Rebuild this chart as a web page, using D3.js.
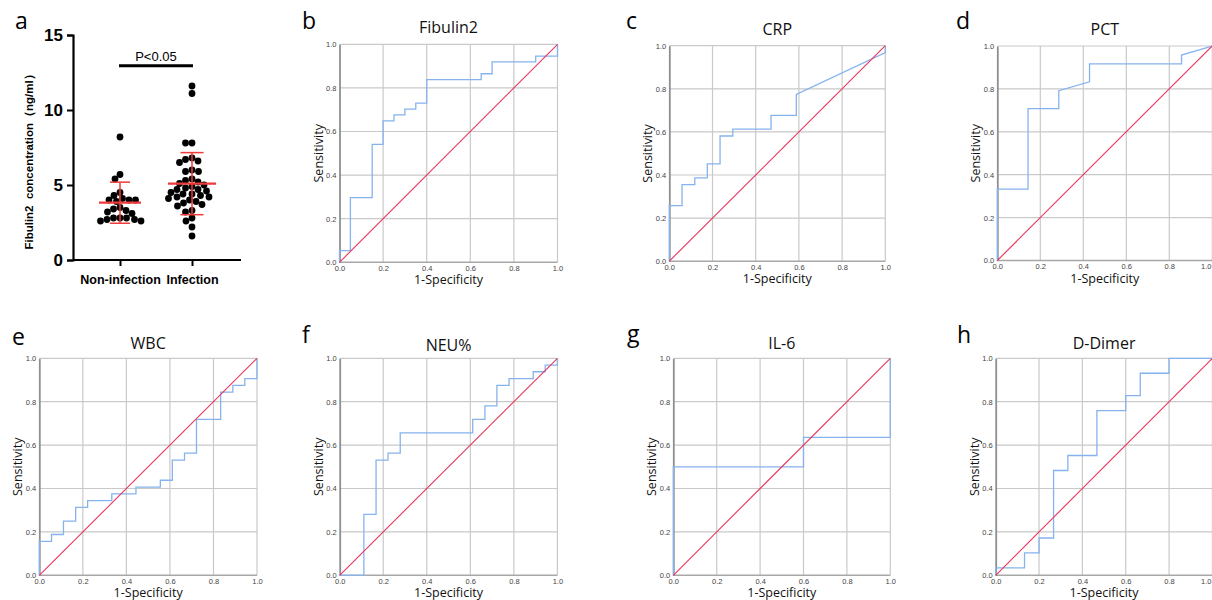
<!DOCTYPE html>
<html>
<head>
<meta charset="utf-8">
<script src="https://cdn.jsdelivr.net/npm/d3@7"></script>
<style>
  html, body { margin: 0; padding: 0; background: #fff; }
  svg { display: block; }
</style>
</head>
<body>
<svg id="chart" width="1212" height="600"></svg>
<script>
// ---------------- DATA ----------------
// Panel a: Fibulin2 concentration (ng/ml)
const groups = ["Non-infection", "Infection"];
const nonInfection = [8.2, 5.7, 5.4, 4.5, 4.3, 4.1, 4.0, 4.0, 4.0, 3.9, 3.5, 3.4, 3.3, 3.2, 3.1, 2.8, 2.8, 2.8, 2.7, 2.7, 2.6, 2.6];
const infection = [11.6, 11.1, 7.8, 7.8, 6.8, 6.7, 6.6, 6.5, 6.0, 5.9, 5.9, 5.4, 5.3, 5.2, 5.1, 5.0, 4.9, 4.8, 4.7, 4.7, 4.6, 4.5, 4.4, 4.4, 4.3, 4.2, 4.2, 4.1, 4.0, 3.9, 3.8, 3.7, 3.6, 3.3, 3.2, 2.8, 2.6, 2.2, 1.6];
const groupMeans = [3.82, 5.09];
const groupSDs = [1.37, 2.07];
const concTicks = [0, 5, 10, 15];
const pLabel = "P<0.05";

// ROC panels: 1-Specificity (fpr) and Sensitivity (tpr) vertices
const fibulinFpr = [0, 0, 0.05, 0.05, 0.15, 0.15, 0.2, 0.2, 0.25, 0.25, 0.3, 0.3, 0.35, 0.35, 0.4, 0.4, 0.65, 0.65, 0.7, 0.7, 0.9, 0.9, 1, 1];
const fibulinTpr = [0, 0.054, 0.054, 0.297, 0.297, 0.541, 0.541, 0.649, 0.649, 0.676, 0.676, 0.703, 0.703, 0.730, 0.730, 0.838, 0.838, 0.865, 0.865, 0.919, 0.919, 0.946, 0.946, 1];

const crpFpr = [0, 0, 0.059, 0.059, 0.118, 0.118, 0.176, 0.176, 0.235, 0.235, 0.294, 0.294, 0.471, 0.471, 0.588, 0.588, 1, 1];
const crpTpr = [0, 0.258, 0.258, 0.355, 0.355, 0.387, 0.387, 0.452, 0.452, 0.581, 0.581, 0.613, 0.613, 0.677, 0.677, 0.774, 0.968, 1];

const pctFpr = [0, 0, 0.143, 0.143, 0.286, 0.286, 0.429, 0.429, 0.857, 0.857, 1];
const pctTpr = [0, 0.333, 0.333, 0.708, 0.708, 0.792, 0.833, 0.917, 0.917, 0.958, 1];

const wbcFpr = [0, 0, 0.056, 0.056, 0.111, 0.111, 0.167, 0.167, 0.222, 0.222, 0.333, 0.333, 0.444, 0.444, 0.556, 0.556, 0.611, 0.611, 0.667, 0.667, 0.722, 0.722, 0.833, 0.833, 0.889, 0.889, 0.944, 0.944, 1, 1];
const wbcTpr = [0, 0.156, 0.156, 0.188, 0.188, 0.25, 0.25, 0.313, 0.313, 0.344, 0.344, 0.375, 0.375, 0.406, 0.406, 0.438, 0.438, 0.531, 0.531, 0.563, 0.563, 0.719, 0.719, 0.844, 0.844, 0.875, 0.875, 0.906, 0.906, 1];

const neuFpr = [0, 0.111, 0.111, 0.167, 0.167, 0.222, 0.222, 0.278, 0.278, 0.611, 0.611, 0.667, 0.667, 0.722, 0.722, 0.778, 0.778, 0.889, 0.889, 0.944, 0.944, 1, 1];
const neuTpr = [0, 0, 0.281, 0.281, 0.531, 0.531, 0.563, 0.563, 0.656, 0.656, 0.719, 0.719, 0.781, 0.781, 0.875, 0.875, 0.906, 0.906, 0.938, 0.938, 0.969, 0.969, 1];

const il6Fpr = [0, 0, 0.6, 0.6, 1, 1];
const il6Tpr = [0, 0.5, 0.5, 0.636, 0.636, 1];

const ddimerFpr = [0, 0, 0.133, 0.133, 0.2, 0.2, 0.267, 0.267, 0.333, 0.333, 0.467, 0.467, 0.6, 0.6, 0.667, 0.667, 0.8, 0.8, 1];
const ddimerTpr = [0, 0.034, 0.034, 0.103, 0.103, 0.172, 0.172, 0.483, 0.483, 0.552, 0.552, 0.759, 0.759, 0.828, 0.828, 0.931, 0.931, 1, 1];

const rocTitles = ["Fibulin2", "CRP", "PCT", "WBC", "NEU%", "IL-6", "D-Dimer"];
const panelLetters = ["a", "b", "c", "d", "e", "f", "g", "h"];
const rocTicks = [0, 0.2, 0.4, 0.6, 0.8, 1.0];

// ---------------- DRAW ----------------
const W = 1212;
const svg = d3.select("#chart");
svg.append("rect").attr("width", W).attr("height", 600).attr("fill", "#fff");

const BLUE = "#86b3ee";
const RED = "#e8365c";
const GRID = "#c9c9c9";
const TITLE_FONT = "'Open Sans', 'Noto Sans', sans-serif";
const ARIAL = "'Liberation Sans', Arial, sans-serif";

// ---- Panel a ----
(function panelA() {
  const left = 73, right = 241, top = 35, bottom = 260;
  const g = svg.append("g");
  const y = d3.scaleLinear().domain([0, 15]).range([bottom, top]);
  const x = d3.scalePoint().domain(groups).range([120, 192]);

  const yAxis = g.append("g").attr("transform", `translate(${left},0)`)
    .call(d3.axisLeft(y).tickValues(concTicks).tickSize(6).tickPadding(4));
  yAxis.select(".domain").attr("stroke", "#000").attr("stroke-width", 2.2);
  yAxis.selectAll(".tick line").attr("stroke", "#000").attr("stroke-width", 2);
  yAxis.selectAll(".tick text").attr("font-family", ARIAL)
    .attr("font-weight", "bold").attr("font-size", 17).attr("fill", "#000");

  const xAxis = g.append("g").attr("transform", `translate(0,${bottom})`)
    .call(d3.axisBottom(x).tickSize(6).tickPadding(9));
  xAxis.select(".domain").attr("d", `M${left},0H${right}`).attr("stroke", "#000").attr("stroke-width", 2.2);
  xAxis.selectAll(".tick line").attr("stroke", "#000").attr("stroke-width", 2);
  xAxis.selectAll(".tick text").attr("font-family", ARIAL)
    .attr("font-weight", "bold").attr("font-size", 12.5).attr("fill", "#000");

  // y title
  g.append("text")
    .attr("transform", `translate(33,159) rotate(-90)`)
    .attr("text-anchor", "middle")
    .attr("font-family", ARIAL)
    .attr("font-weight", "bold").attr("font-size", 11.5)
    .style("white-space", "pre")
    .text("Fibulin2  concentration\uFF08ng/ml\uFF09");

  // beeswarm dots
  const r = 3.4;
  function swarm(vals) {
    const order = vals.map((v, i) => i).sort((a, b) => vals[b] - vals[a]);
    const placed = [];
    const out = new Array(vals.length);
    order.forEach(i => {
      const py = y(vals[i]);
      let best = 0;
      for (let k = 0; k < 200; k++) {
        const dx = (k % 2 === 0 ? 1 : -1) * Math.ceil(k / 2) * 0.5;
        const ok = placed.every(p => Math.hypot(p.x - dx, p.y - py) >= 2 * r * 0.95);
        if (ok) { best = dx; break; }
      }
      placed.push({ x: best, y: py });
      out[i] = best;
    });
    return out;
  }
  [nonInfection, infection].forEach((vals, gi) => {
    const offs = swarm(vals);
    g.append("g").selectAll("circle").data(vals).join("circle")
      .attr("cx", (d, i) => x(groups[gi]) + offs[i])
      .attr("cy", d => y(d))
      .attr("r", r).attr("fill", "#000");
  });

  // mean and SD
  const meanHalf = [21, 24], capHalf = [10, 11.5];
  groups.forEach((grp, gi) => {
    const cx = x(grp);
    const m = groupMeans[gi], s = groupSDs[gi];
    g.append("line").attr("x1", cx).attr("x2", cx).attr("y1", y(m + s)).attr("y2", y(m - s))
      .attr("stroke", "#f03a3a").attr("stroke-width", 1.5);
    [m + s, m - s].forEach(v => g.append("line")
      .attr("x1", cx - capHalf[gi]).attr("x2", cx + capHalf[gi]).attr("y1", y(v)).attr("y2", y(v))
      .attr("stroke", "#f03a3a").attr("stroke-width", 1.5));
    g.append("line").attr("x1", cx - meanHalf[gi]).attr("x2", cx + meanHalf[gi]).attr("y1", y(m)).attr("y2", y(m))
      .attr("stroke", "#f03a3a").attr("stroke-width", 2.2);
  });

  // significance bar
  g.append("line").attr("x1", x(groups[0]) - 1).attr("x2", x(groups[1]) + 1)
    .attr("y1", 65.7).attr("y2", 65.7).attr("stroke", "#000").attr("stroke-width", 3);
  g.append("text").attr("x", (x(groups[0]) + x(groups[1])) / 2).attr("y", 61)
    .attr("text-anchor", "middle").attr("font-family", ARIAL)
    .attr("font-size", 13).text(pLabel);

  g.append("text").attr("x", 15).attr("y", 29).attr("font-family", TITLE_FONT)
    .attr("font-size", 23).text(panelLetters[0]);
})();

// ---- ROC panels ----
const rocData = [
  [fibulinFpr, fibulinTpr], [crpFpr, crpTpr], [pctFpr, pctTpr],
  [wbcFpr, wbcTpr], [neuFpr, neuTpr], [il6Fpr, il6Tpr], [ddimerFpr, ddimerTpr]
];
const rocLayout = [
  { l: 339.5, t: 44.3, w: 218, h: 218, lx: 302, ly: 29, ty: 33 },
  { l: 669.3, t: 45.7, w: 216, h: 215.5, lx: 626, ly: 29, ty: 35 },
  { l: 997.3, t: 46, w: 215, h: 214.5, lx: 956, ly: 29, ty: 35 },
  { l: 39.3, t: 358.3, w: 217.7, h: 217, lx: 12, ly: 345, ty: 349 },
  { l: 339.7, t: 358.3, w: 217.7, h: 217, lx: 302, ly: 343, ty: 351 },
  { l: 673.3, t: 358.3, w: 217, h: 217, lx: 627, ly: 342, ty: 349 },
  { l: 995.7, t: 358.3, w: 216.7, h: 217, lx: 957, ly: 343, ty: 349 }
];

rocData.forEach(([fpr, tpr], k) => {
  const L = rocLayout[k];
  const g = svg.append("g");
  const x = d3.scaleLinear().domain([0, 1]).range([L.l, L.l + L.w]);
  const y = d3.scaleLinear().domain([0, 1]).range([L.t + L.h, L.t]);

  // grid
  g.append("g").selectAll("line").data(rocTicks.slice(1)).join("line")
    .attr("x1", d => x(d)).attr("x2", d => x(d)).attr("y1", y(0)).attr("y2", y(1))
    .attr("stroke", GRID).attr("stroke-width", 1.2);
  g.append("g").selectAll("line").data(rocTicks.slice(1)).join("line")
    .attr("x1", x(0)).attr("x2", x(1)).attr("y1", d => y(d)).attr("y2", d => y(d))
    .attr("stroke", GRID).attr("stroke-width", 1.2);
  // bottom frame
  g.append("line").attr("x1", x(0)).attr("x2", x(1)).attr("y1", y(0)).attr("y2", y(0))
    .attr("stroke", "#a8a8a8").attr("stroke-width", 1.4);

  // axes labels via d3 axes (no tick lines)
  const yAx = g.append("g").attr("transform", `translate(${x(0)},0)`)
    .call(d3.axisLeft(y).tickValues(rocTicks).tickFormat(d3.format(".1f")).tickSize(0).tickPadding(3));
  yAx.select(".domain").attr("stroke", "#8f8f8f").attr("stroke-width", 1.8);
  yAx.selectAll(".tick text").attr("font-family", ARIAL)
    .attr("font-size", 7.5).attr("fill", "#444");
  const xAx = g.append("g").attr("transform", `translate(0,${y(0)})`)
    .call(d3.axisBottom(x).tickValues(rocTicks).tickFormat(d3.format(".1f")).tickSize(0).tickPadding(3));
  xAx.select(".domain").remove();
  xAx.selectAll(".tick text").attr("font-family", ARIAL)
    .attr("font-size", 7.5).attr("fill", "#444")
    .attr("text-anchor", d => (x(d) + 7 > W ? "end" : "middle"))
    .attr("dx", d => (x(d) + 7 > W ? W - 1 - x(d) : 0));

  // ROC curve
  const line = d3.line().x(d => x(d[0])).y(d => y(d[1]));
  g.append("path").datum(fpr.map((f, i) => [f, tpr[i]])).attr("d", line)
    .attr("fill", "none").attr("stroke", BLUE).attr("stroke-width", 1.3);
  // reference line
  g.append("path").datum([[0, 0], [1, 1]]).attr("d", line)
    .attr("fill", "none").attr("stroke", RED).attr("stroke-width", 1.1);

  // titles
  const cx = x(0.5);
  g.append("text").attr("x", cx).attr("y", L.ty).attr("text-anchor", "middle")
    .attr("font-family", TITLE_FONT).attr("font-size", 16).attr("fill", "#111").text(rocTitles[k]);
  g.append("text").attr("x", cx).attr("y", y(0) + 22).attr("text-anchor", "middle")
    .attr("font-family", TITLE_FONT).attr("font-size", 12.5).attr("fill", "#111").text("1-Specificity");
  g.append("text").attr("transform", `translate(${x(0) - 17},${y(0.5)}) rotate(-90)`)
    .attr("text-anchor", "middle").attr("font-family", TITLE_FONT).attr("font-size", 12.5)
    .attr("fill", "#111").text("Sensitivity");
  g.append("text").attr("x", L.lx).attr("y", L.ly).attr("font-family", TITLE_FONT)
    .attr("font-size", 23).attr("fill", "#000").text(panelLetters[k + 1]);
});
</script>
</body>
</html>
